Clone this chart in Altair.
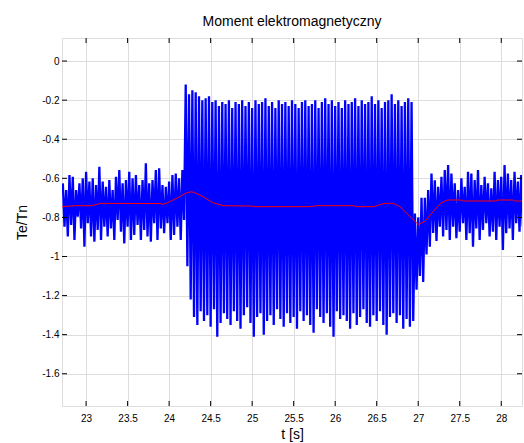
import altair as alt
import pandas as pd

# --- sampled torque signal: per-step upper / lower swing (Te/Tn) ---
T0 = 22.72      # first sample time [s]
DT = 0.04       # step between upper swings [s]

HI_BEFORE = [-0.626, -0.660, -0.583, -0.592, -0.660, -0.626, -0.600, -0.566, -0.617, -0.600,
             -0.634, -0.541, -0.617, -0.643, -0.609, -0.660, -0.592, -0.558, -0.626, -0.609,
             -0.566, -0.600, -0.583, -0.634, -0.609, -0.523, -0.626, -0.609, -0.558, -0.549,
             -0.634, -0.643, -0.617, -0.583, -0.575, -0.600, -0.558]
LO_BEFORE = [-0.847, -0.898, -0.839, -0.916, -0.796, -0.856, -0.950, -0.830, -0.898, -0.924,
             -0.864, -0.916, -0.847, -0.898, -0.856, -0.916, -0.813, -0.873, -0.933, -0.847,
             -0.916, -0.890, -0.839, -0.916, -0.864, -0.898, -0.924, -0.830, -0.916, -0.856,
             -0.881, -0.830, -0.916, -0.890, -0.847, -0.916, -0.813]

HI_FAULT = [-0.12, -0.17, -0.15, -0.16, -0.18, -0.20, -0.19, -0.18, -0.21, -0.20,
            -0.23, -0.21, -0.22, -0.20, -0.24, -0.21, -0.22, -0.20, -0.23, -0.21,
            -0.24, -0.20, -0.22, -0.21, -0.19, -0.23, -0.21, -0.24, -0.20, -0.22,
            -0.21, -0.23, -0.20, -0.22, -0.24, -0.21, -0.20, -0.23, -0.22, -0.20,
            -0.24, -0.21, -0.19, -0.22, -0.20, -0.23, -0.21, -0.24, -0.20, -0.22,
            -0.21, -0.19, -0.23, -0.20, -0.22, -0.21, -0.18, -0.22, -0.20, -0.24,
            -0.21, -0.20, -0.17, -0.22, -0.20, -0.23, -0.21, -0.19, -0.21]
LO_FAULT = [-1.05, -1.22, -1.31, -1.35, -1.28, -1.33, -1.30, -1.36, -1.27, -1.41,
            -1.34, -1.29, -1.32, -1.35, -1.28, -1.33, -1.37, -1.30, -1.26, -1.34,
            -1.41, -1.31, -1.29, -1.40, -1.33, -1.30, -1.35, -1.27, -1.32, -1.36,
            -1.29, -1.34, -1.31, -1.37, -1.28, -1.33, -1.30, -1.35, -1.39, -1.27,
            -1.31, -1.34, -1.29, -1.36, -1.41, -1.28, -1.32, -1.30, -1.33, -1.37,
            -1.29, -1.35, -1.31, -1.27, -1.34, -1.36, -1.30, -1.33, -1.28, -1.35,
            -1.40, -1.31, -1.29, -1.34, -1.30, -1.37, -1.32, -1.36, -1.33]

HI_AFTER = [-0.78, -0.80, -0.70, -0.70, -0.66, -0.575, -0.61, -0.643, -0.592, -0.558,
            -0.532, -0.575, -0.626, -0.66, -0.60, -0.643, -0.566, -0.575, -0.609, -0.558,
            -0.634, -0.592, -0.626, -0.651, -0.566, -0.609, -0.592, -0.532, -0.575, -0.609,
            -0.566, -0.617, -0.583]
LO_AFTER = [-1.17, -1.10, -1.13, -0.99, -0.95, -0.88, -0.92, -0.847, -0.898, -0.864,
            -0.916, -0.847, -0.907, -0.873, -0.83, -0.916, -0.881, -0.95, -0.856, -0.916,
            -0.864, -0.83, -0.898, -0.873, -0.916, -0.847, -0.967, -0.881, -0.856, -0.916,
            -0.83, -0.873, -0.847]

# --- filtered (mean) torque ---
MEAN_T = [22.71, 22.87, 23.07, 23.17, 23.89, 23.93, 23.98, 24.10, 24.19, 24.27,
          24.37, 24.53, 24.65, 25.00, 25.02, 25.70, 25.78, 26.22, 26.25, 26.47,
          26.54, 26.60, 26.70, 26.78, 26.90, 27.00, 27.08, 27.18, 27.27, 27.35,
          27.51, 27.54, 27.93, 27.96, 28.14, 28.16, 28.25]
MEAN_V = [-0.745, -0.740, -0.740, -0.728, -0.729, -0.733, -0.725, -0.700, -0.678, -0.668,
          -0.685, -0.725, -0.740, -0.742, -0.745, -0.745, -0.740, -0.740, -0.745, -0.745,
          -0.735, -0.728, -0.728, -0.745, -0.795, -0.836, -0.820, -0.770, -0.728, -0.711,
          -0.711, -0.716, -0.716, -0.711, -0.711, -0.716, -0.716]

X_TICKS = [23, 23.5, 24, 24.5, 25, 25.5, 26, 26.5, 27, 27.5, 28]
Y_TICKS = [0, -0.2, -0.4, -0.6, -0.8, -1, -1.2, -1.4, -1.6]
X_DOMAIN = [22.71, 28.25]
Y_DOMAIN = [-1.765, 0.118]

W, H = 460, 368
FONT = "Liberation Sans"
FS = 14
TICK_LEN = 5

hi = HI_BEFORE + HI_FAULT + HI_AFTER
lo = LO_BEFORE + LO_FAULT + LO_AFTER
rows = []
for i, (h, l) in enumerate(zip(hi, lo)):
    t = T0 + i * DT
    rows.append({"t": t, "v": h, "seq": 2 * i})
    rows.append({"t": t + DT / 2, "v": l, "seq": 2 * i + 1})
signal = pd.DataFrame(rows)
mean = pd.DataFrame({"t": MEAN_T, "v": MEAN_V})

xs = alt.Scale(domain=X_DOMAIN, nice=False, zero=False)
ys = alt.Scale(domain=Y_DOMAIN, nice=False, zero=False)

x_axis = alt.Axis(values=X_TICKS, labelExpr="toString(datum.value)", title="t [s]",
                  grid=True, ticks=False, domain=False, labelPadding=7,
                  titleFont=FONT, titleFontSize=FS, titleFontWeight="normal", titleColor="black",
                  titleY=28, titleBaseline="middle", titleX=W / 2)
y_axis = alt.Axis(values=Y_TICKS, labelExpr="toString(datum.value)", title="Te/Tn",
                  grid=True, ticks=False, domain=False, labelPadding=3,
                  titleFont=FONT, titleFontSize=FS, titleFontWeight="normal", titleColor="black",
                  titleX=-40, titleY=H / 2, titleBaseline="middle", titleAngle=-90)

blue = alt.Chart(signal).mark_line(color="#0000ff", strokeWidth=2.3, strokeJoin="bevel",
                                   clip=True).encode(
    x=alt.X("t:Q", scale=xs, axis=x_axis),
    y=alt.Y("v:Q", scale=ys, axis=y_axis),
    order="seq:Q",
)
red = alt.Chart(mean).mark_line(color="#ff0000", strokeWidth=1, clip=True).encode(
    x=alt.X("t:Q", scale=xs),
    y=alt.Y("v:Q", scale=ys),
)

# inward tick marks on all four sides
xt = pd.DataFrame({"t": X_TICKS})
yt = pd.DataFrame({"v": Y_TICKS})
tick_bottom = alt.Chart(xt).mark_rule(color="black").encode(
    x=alt.X("t:Q", scale=xs), y=alt.value(H - TICK_LEN), y2=alt.value(H))
tick_top = alt.Chart(xt).mark_rule(color="black").encode(
    x=alt.X("t:Q", scale=xs), y=alt.value(0), y2=alt.value(TICK_LEN))
tick_left = alt.Chart(yt).mark_rule(color="black").encode(
    y=alt.Y("v:Q", scale=ys), x=alt.value(0), x2=alt.value(TICK_LEN))
tick_right = alt.Chart(yt).mark_rule(color="black").encode(
    y=alt.Y("v:Q", scale=ys), x=alt.value(W - TICK_LEN), x2=alt.value(W))

chart = alt.layer(blue, red, tick_bottom, tick_top, tick_left, tick_right).properties(
    width=W,
    height=H,
    title=alt.TitleParams("Moment elektromagnetyczny", fontSize=FS, fontWeight="normal",
                          font=FONT, color="black", anchor="middle", offset=9),
    autosize=alt.AutoSizeParams(type="none"),
    padding={"left": 62, "top": 38, "right": 2, "bottom": 37},
).configure_view(
    stroke="black", strokeWidth=1.2
).configure_axis(
    labelFont=FONT, labelFontSize=FS, labelColor="black",
    gridColor="#666666", gridDash=[2, 2], gridWidth=1, gridOpacity=1,
).configure(background="white")

chart.save("out.html", embed_options={"renderer": "svg", "actions": False})
